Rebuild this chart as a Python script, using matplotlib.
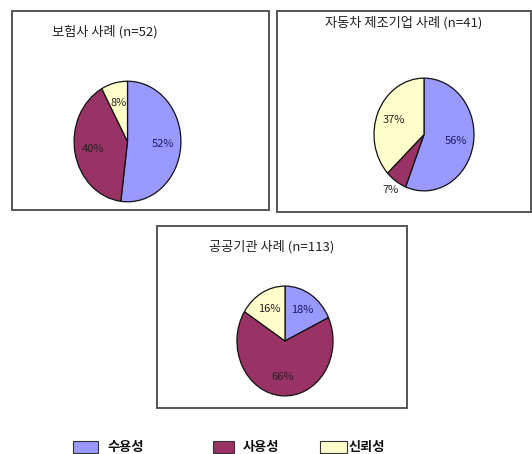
import numpy as np
import matplotlib.pyplot as plt
from matplotlib.patches import Rectangle

plt.rcParams['font.family'] = ['Noto Sans CJK KR', 'DejaVu Sans']

# 범례 항목
categories = ['수용성', '사용성', '신뢰성']
colors = ['#9999FF', '#993366', '#FFFFCC']

# 사례별 비율 (%)
titles = ['보험사 사례 (n=52)', '자동차 제조기업 사례 (n=41)', '공공기관 사례 (n=113)']
insurance = [52, 40, 8]
automaker = [56, 7, 37]
public = [18, 66, 16]
values = [insurance, automaker, public]

W, H = 532, 454
fig = plt.figure(figsize=(W / 100, H / 100), dpi=100)


def rect(x0, y0, x1, y1):
    # 픽셀 좌표 -> figure 좌표
    return [x0 / W, 1 - y1 / H, (x1 - x0) / W, (y1 - y0) / H]


# 각 패널 틀, 제목 위치, 파이 영역
boxes = [(12, 11, 269, 210), (277, 11, 531, 212), (157, 226, 407, 408)]
title_pos = [(105, 32), (404, 23), (272, 247)]
pie_boxes = [(73, 80, 182, 203), (373, 77, 475, 192), (236, 285, 334, 397)]
outside = [[], [1], []]  # 바깥에 찍는 라벨

for i in range(3):
    bx = boxes[i]
    fig.patches.append(Rectangle((bx[0] / W, 1 - bx[3] / H), (bx[2] - bx[0]) / W,
                                 (bx[3] - bx[1]) / H, transform=fig.transFigure,
                                 fill=False, edgecolor='#555555', linewidth=1.4))
    tx, ty = title_pos[i]
    fig.text(tx / W, 1 - ty / H, titles[i], ha='center', va='center',
             fontsize=9.5, color='#222222')

    ax = fig.add_axes(rect(*pie_boxes[i]))
    wedges, texts, autotexts = ax.pie(values[i], colors=colors, startangle=90,
                                      counterclock=False, autopct='%d%%',
                                      pctdistance=0.66,
                                      wedgeprops=dict(edgecolor='#111111', linewidth=0.9),
                                      textprops=dict(fontsize=8))
    ax.set_aspect('auto')
    ax.set_xlim(-1.02, 1.02)
    ax.set_ylim(-1.02, 1.02)
    for j, t in enumerate(autotexts):
        t.set_color('#1a1a66' if j == 0 else '#222222')
        if j in outside[i]:
            w = wedges[j]
            ang = np.deg2rad((w.theta1 + w.theta2) / 2)
            t.set_position((1.2 * np.cos(ang), 1.2 * np.sin(ang)))

# 범례
leg_sq = [(73, 441, 98, 453), (213, 441, 234, 453), (320, 441, 347, 453)]
for k in range(3):
    x0, y0, x1, y1 = leg_sq[k]
    fig.patches.append(Rectangle((x0 / W, 1 - y1 / H), (x1 - x0) / W, (y1 - y0) / H,
                                 transform=fig.transFigure, facecolor=colors[k],
                                 edgecolor='#333333', linewidth=0.8))
    fig.text((x1 + 9 if k < 2 else x1 + 2) / W, 1 - 447 / H, categories[k],
             ha='left', va='center', fontsize=9.5, fontweight='bold', color='#111111')

plt.savefig('out.png', dpi=100)
